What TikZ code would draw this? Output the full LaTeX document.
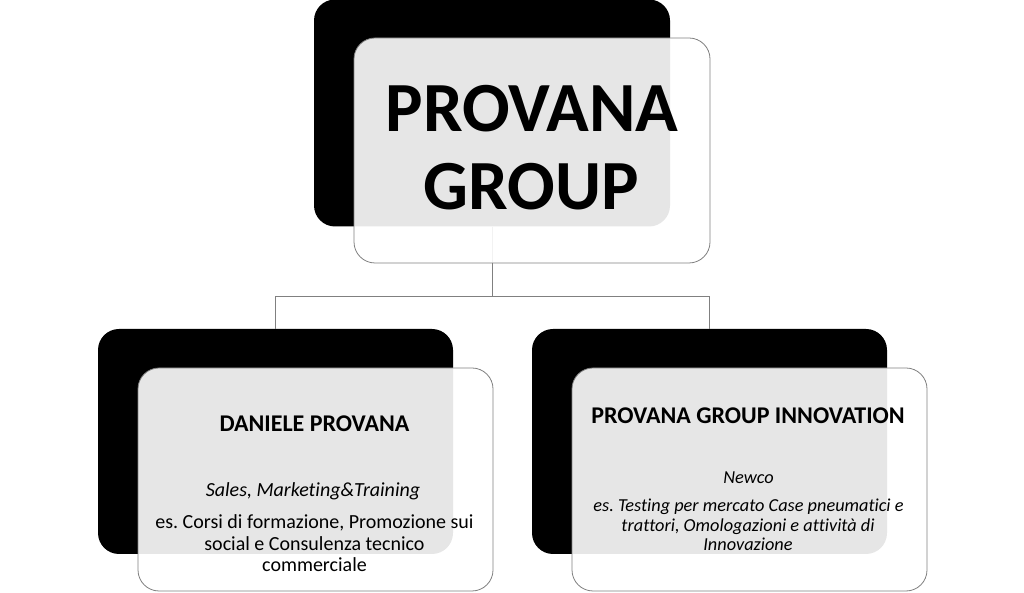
\documentclass[tikz,border=0pt]{standalone}
\usepackage{fontspec}
\setmainfont{Carlito}[Ligatures={NoCommon}]
\frenchspacing
\begin{document}
\begin{tikzpicture}[x=1pt,y=1pt,
  backbox/.style={rectangle, rounded corners=21pt, fill=black, draw=none, inner sep=0pt},
  frontbox/.style={rectangle, rounded corners=21pt, fill=white, fill opacity=0.9, draw=black!50, line width=0.8pt, inner sep=0pt},
  conn/.style={draw=black!50, line width=0.8pt},
  lbl/.style={anchor=base, inner sep=0pt, text=black},
  bigtxt/.style={lbl, font=\fontsize{70.5}{78}\selectfont\bfseries},
  headtxt/.style={lbl, font=\fontsize{24}{28}\selectfont\bfseries},
  bodytxt/.style={lbl, font=\fontsize{20}{22}\selectfont},
  bodyitl/.style={lbl, font=\fontsize{20}{22}\selectfont\itshape},
  bodyit/.style={lbl, font=\fontsize{18.3}{20}\selectfont\itshape}
]
\useasboundingbox (0,0) rectangle (1024,593);
% back boxes
\node[backbox, minimum width=356pt, minimum height=227pt] (topback) at (492,480) {};
\node[backbox, minimum width=355pt, minimum height=225pt] (leftback) at (275.5,151.5) {};
\node[backbox, minimum width=355pt, minimum height=225pt] (rightback) at (709.5,151.5) {};
% connectors
\coordinate (bus) at (0,297);
\draw[conn] (topback.south) -- (topback.south |- bus);
\draw[conn] (leftback.north) -- (leftback.north |- bus) -- (rightback.north |- bus) -- (rightback.north);
% front boxes
\node[frontbox, minimum width=356pt, minimum height=225pt] (topfront) at (532,442.5) {};
\node[frontbox, minimum width=355pt, minimum height=223pt] (leftfront) at (315.5,113.5) {};
\node[frontbox, minimum width=355pt, minimum height=223pt] (rightfront) at (749.5,113.5) {};
% top text
\node[bigtxt] (t1) at (532,461) {PROVANA};
\node[bigtxt] (t2) at (531,383) {GROUP};
% left text
\node[headtxt] (l1) at (314.5,161) {DANIELE PROVANA};
\node[bodyitl] (l2) at (313,96) {Sales, Marketing\&Training};
\node[bodytxt] (l3) at (314.5,64) {es. Corsi di formazione, Promozione sui};
\node[bodytxt] (l4) at (314.5,42) {social e Consulenza tecnico};
\node[bodytxt] (l5) at (314.5,21) {commerciale};
% right text
\node[headtxt] (r1) at (748,169) {PROVANA GROUP INNOVATION};
\node[bodyit] (r2) at (748.5,109) {Newco};
\node[bodyit] (r3) at (748.5,81) {es. Testing per mercato Case pneumatici e};
\node[bodyit] (r4) at (748,61) {trattori, Omologazioni e attività di};
\node[bodyit] (r5) at (748,42) {Innovazione};
\end{tikzpicture}
\end{document}
